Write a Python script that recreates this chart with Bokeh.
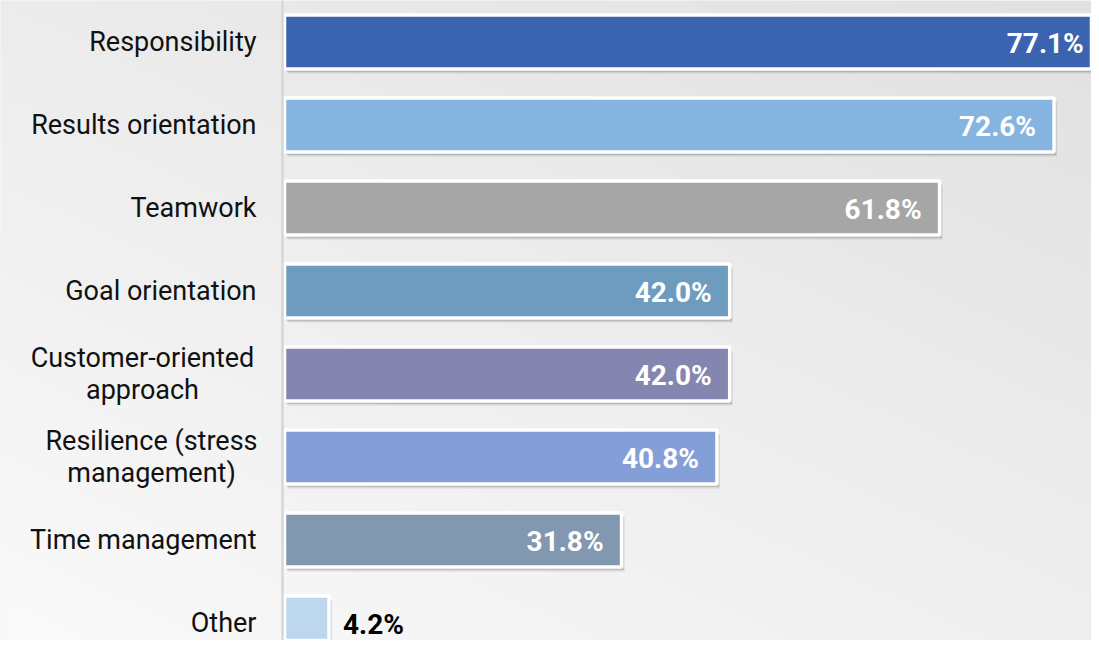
import numpy as np
from bokeh.plotting import figure
from bokeh.models import Range1d, Span, ColumnDataSource
from bokeh.core.properties import value
from bokeh.embed import file_html
from bokeh.resources import INLINE

# ---- data ----
categories = ["Responsibility", "Results orientation", "Teamwork", "Goal orientation",
              "Customer-oriented\napproach", "Resilience (stress\nmanagement)",
              "Time management", "Other"]
values = [77.1, 72.6, 61.8, 42.0, 42.0, 40.8, 31.8, 4.2]
colors = ["#3A64B0", "#85B4E0", "#A6A6A6", "#6E9CBE",
          "#8586B0", "#849ED8", "#8297B0", "#BDD7EE"]

# ---- geometry ----
W, H = 1091, 640
PX_X = 10.6      # px per percent
ZERO_X = 284     # px of zero inside canvas
PX_Y = 83        # px per category
TOP_Y = 41.5     # px of first category centre

n = len(categories)
x0 = -ZERO_X / PX_X
x1 = (W - ZERO_X) / PX_X
y_top = (n - 1) + TOP_Y / PX_Y
y_bot = (n - 1) - (H - TOP_Y) / PX_Y
ys = [n - 1 - i for i in range(n)]

p = figure(width=W, height=H, x_range=Range1d(x0, x1), y_range=Range1d(y_bot, y_top),
           output_backend="svg", toolbar_location=None, min_border=0,
           x_axis_location=None, y_axis_location=None)
p.grid.visible = False
p.outline_line_color = None
p.background_fill_color = "#ededed"
p.border_fill_color = "#ededed"

# background gradient (light bottom-left, darker top-right)
gh, gw = 160, 273
xf = np.linspace(0, 1, gw)[None, :]
yf = np.linspace(0, 1, gh)[:, None]
g = np.clip(250 - 11 * xf - 14 * yf, 0, 255).astype(np.uint8)
img = np.empty((gh, gw), dtype=np.uint32)
view = img.view(dtype=np.uint8).reshape((gh, gw, 4))
view[..., 0] = g
view[..., 1] = g
view[..., 2] = g
view[..., 3] = 255
p.image_rgba(image=[img], x=x0, y=y_bot, dw=x1 - x0, dh=y_top - y_bot)

bar_h = 0.65

# drop shadows
for dx, dy, a in [(1, 1.5, 0.12), (2, 3.0, 0.12), (3, 4.5, 0.10)]:
    p.hbar(y=[y - dy / PX_Y for y in ys], left=dx / PX_X,
           right=[v + dx / PX_X for v in values], height=bar_h,
           fill_color="black", fill_alpha=a, line_color=None)

# bars
src = ColumnDataSource(dict(y=ys, right=values, color=colors))
p.hbar(y="y", left=0, right="right", height=bar_h, fill_color="color",
       line_color="white", line_width=3.5, source=src)

# axis line
p.add_layout(Span(location=-2 / PX_X, dimension="height",
                  line_color="#d6d6d6", line_width=2.5))

# category labels
lab_align = ["center" if "\n" in c else "right" for c in categories]
lab_off = []
for c in categories:
    if c.startswith("Customer"):
        lab_off.append(-142)
    elif c.startswith("Resilience"):
        lab_off.append(-133)
    else:
        lab_off.append(-28)
lab_src = ColumnDataSource(dict(x=[0] * n, y=ys, text=categories, align=lab_align, off=lab_off))
p.text(x="x", y="y", text="text", source=lab_src, text_align="align", x_offset="off",
       text_baseline="middle", text_font=value("Roboto"), text_font_size="27px",
       text_color="#111111", text_line_height=1.0)

# value labels
inside = [v > 10 for v in values]
val_src = ColumnDataSource(dict(
    x=values, y=ys,
    text=[f"{v:.1f}%" for v in values],
    align=["right" if i else "left" for i in inside],
    off=[-18 if i else 14 for i in inside],
    color=["white" if i else "black" for i in inside]))
p.text(x="x", y="y", text="text", source=val_src, text_align="align", x_offset="off",
       y_offset=1, text_baseline="middle", text_font=value("Roboto"),
       text_font_size="28px", text_font_style="bold", text_color="color")

open("out.html", "w").write(file_html(p, INLINE))
